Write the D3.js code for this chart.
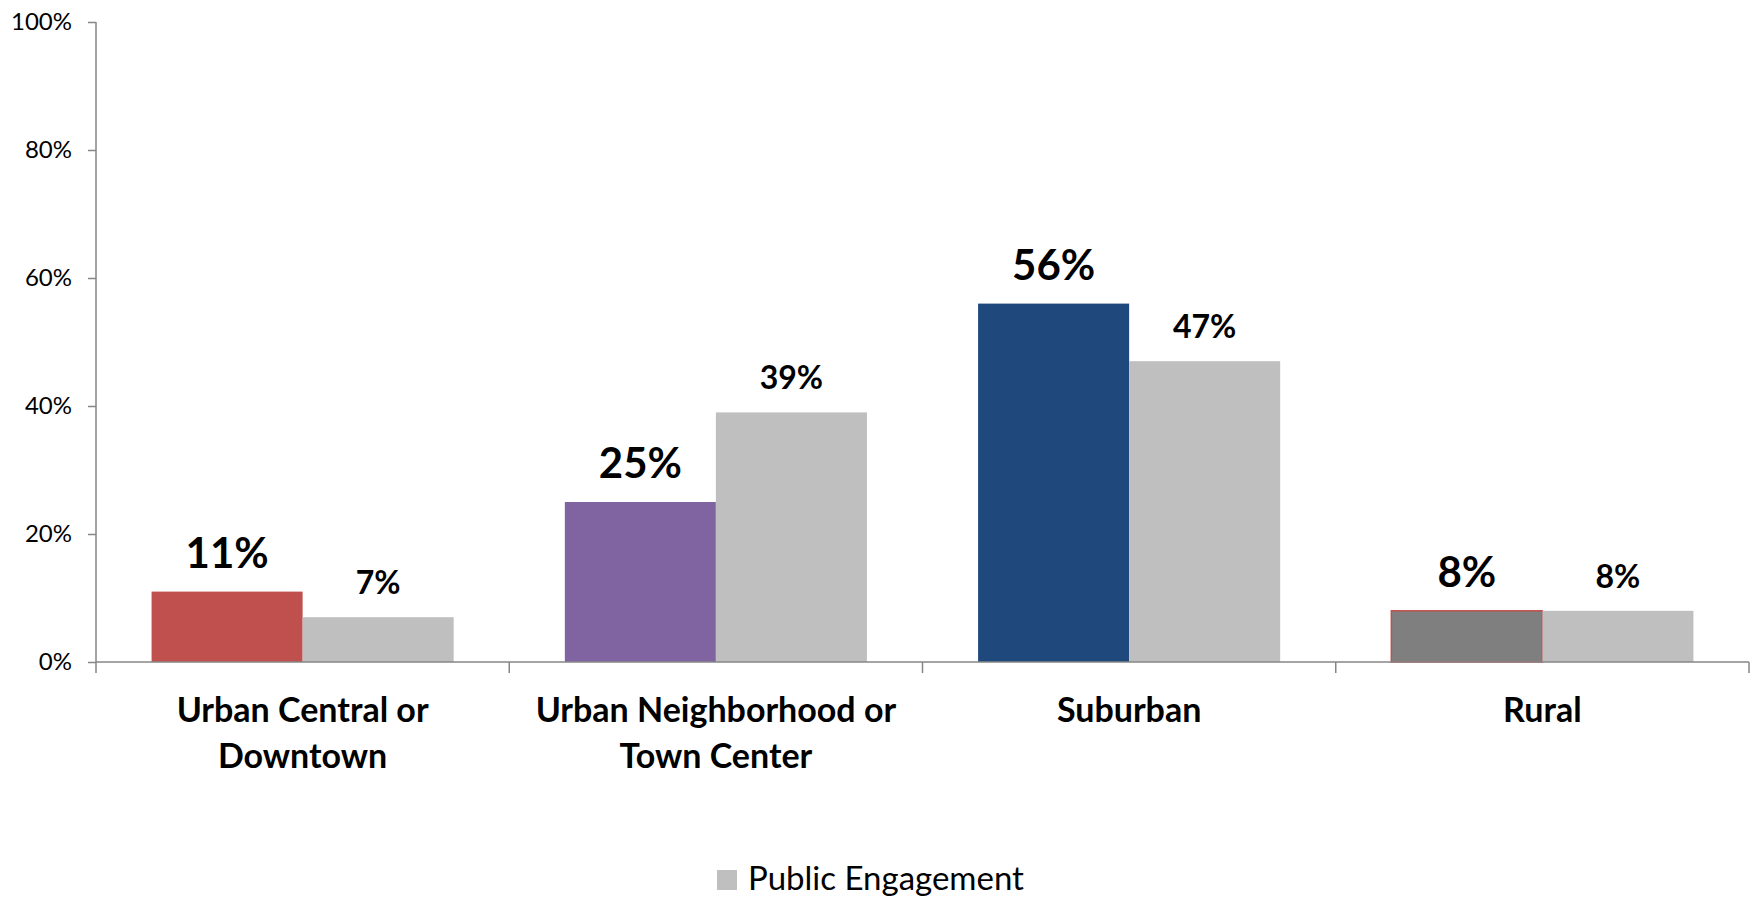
<!DOCTYPE html>
<html>
<head>
<meta charset="utf-8">
<script src="https://cdn.jsdelivr.net/npm/d3@7"></script>
<style>
  html, body { margin: 0; padding: 0; background: #fff; }
  svg { display: block; }
  text { font-family: Lato, "Open Sans", sans-serif; fill: #000; }
</style>
</head>
<body>
<svg id="chart" width="1754" height="897"></svg>
<script>
// Location categories (each label split over lines as drawn)
const categories = ["Urban Central or Downtown", "Urban Neighborhood or Town Center", "Suburban", "Rural"];
const categoryLines = [["Urban Central or", "Downtown"], ["Urban Neighborhood or", "Town Center"], ["Suburban"], ["Rural"]];

// Share by location (%)
const primaryValues = [11, 25, 56, 8];
const engagementValues = [7, 39, 47, 8];

// Per-category colours of the highlighted series
const primaryColors = ["#C0504D", "#8064A2", "#1F497D", "#7F7F7F"];
const primaryStroke = [null, null, null, "#C0504D"];
const engagementColor = "#BFBFBF";

const yTicks = [0, 20, 40, 60, 80, 100];
const legendLabel = "Public Engagement";

const svg = d3.select("#chart");
const margin = { left: 96, right: 5, top: 22, bottom: 235 };
const W = 1754, H = 897;
const plotW = W - margin.left - margin.right;
const plotH = H - margin.top - margin.bottom;

const g = svg.append("g").attr("transform", `translate(${margin.left},${margin.top})`);

const x0 = d3.scaleBand().domain(categories).range([0, plotW]).paddingInner(0).paddingOuter(0);
const x1 = d3.scaleBand().domain(["primary", "engagement"]).range([0, x0.bandwidth()]).paddingInner(0).paddingOuter(0.368);
const y = d3.scaleLinear().domain([0, 100]).range([plotH, 0]);

const axisColor = "#868686";

// Y axis
const yAxis = g.append("g").call(d3.axisLeft(y).tickValues(yTicks).tickFormat(d => d + "%").tickSize(8).tickPadding(16));
yAxis.select(".domain").attr("stroke", axisColor).attr("stroke-width", 1.5).attr("d", `M0,${y(100)}V${y(0)}`);
yAxis.selectAll(".tick line").attr("stroke", axisColor).attr("stroke-width", 1.5);
yAxis.selectAll(".tick text").style("font-size", "24px").style("font-family", "Lato, sans-serif").attr("fill", "#000");

// Bars
const groups = g.selectAll(".cat").data(categories).join("g")
  .attr("class", "cat")
  .attr("transform", d => `translate(${x0(d)},0)`);

groups.append("rect")
  .attr("x", x1("primary"))
  .attr("y", (d, i) => y(primaryValues[i]))
  .attr("width", x1.bandwidth())
  .attr("height", (d, i) => y(0) - y(primaryValues[i]))
  .attr("fill", (d, i) => primaryColors[i])
  .attr("stroke", (d, i) => primaryStroke[i] || "none")
  .attr("stroke-width", 1.5);

groups.append("rect")
  .attr("x", x1("engagement"))
  .attr("y", (d, i) => y(engagementValues[i]))
  .attr("width", x1.bandwidth())
  .attr("height", (d, i) => y(0) - y(engagementValues[i]))
  .attr("fill", engagementColor);

// Value labels
groups.append("text")
  .attr("x", x1("primary") + x1.bandwidth() / 2)
  .attr("y", (d, i) => y(primaryValues[i]) - 24)
  .attr("text-anchor", "middle")
  .style("font-size", "42px").style("font-weight", "bold")
  .text((d, i) => primaryValues[i] + "%");

groups.append("text")
  .attr("x", x1("engagement") + x1.bandwidth() / 2)
  .attr("y", (d, i) => y(engagementValues[i]) - 23)
  .attr("text-anchor", "middle")
  .style("font-size", "32px").style("font-weight", "bold")
  .text((d, i) => engagementValues[i] + "%");

// X axis with ticks at category boundaries
const boundaries = categories.map(c => x0(c)).concat([plotW]);
const xAxis = g.append("g").attr("transform", `translate(0,${plotH})`);
xAxis.append("line").attr("x1", 0).attr("x2", plotW).attr("stroke", axisColor).attr("stroke-width", 1.5);
xAxis.selectAll(".bt").data(boundaries).join("line")
  .attr("class", "bt")
  .attr("x1", d => d).attr("x2", d => d)
  .attr("y1", 0).attr("y2", 11)
  .attr("stroke", axisColor).attr("stroke-width", 1.5);

// Category labels
categories.forEach((c, i) => {
  const t = xAxis.append("text")
    .attr("x", x0(c) + x0.bandwidth() / 2)
    .attr("y", 60)
    .attr("text-anchor", "middle")
    .style("font-size", "34px").style("font-weight", "bold");
  categoryLines[i].forEach((line, k) => {
    t.append("tspan").attr("x", x0(c) + x0.bandwidth() / 2).attr("dy", k === 0 ? 0 : 46).text(line);
  });
});

// Legend
const legend = svg.append("g").attr("transform", "translate(717,870)");
legend.append("rect").attr("width", 20).attr("height", 20).attr("fill", engagementColor);
legend.append("text").attr("x", 31).attr("y", 20).style("font-size", "33px").text(legendLabel);
</script>
</body>
</html>
